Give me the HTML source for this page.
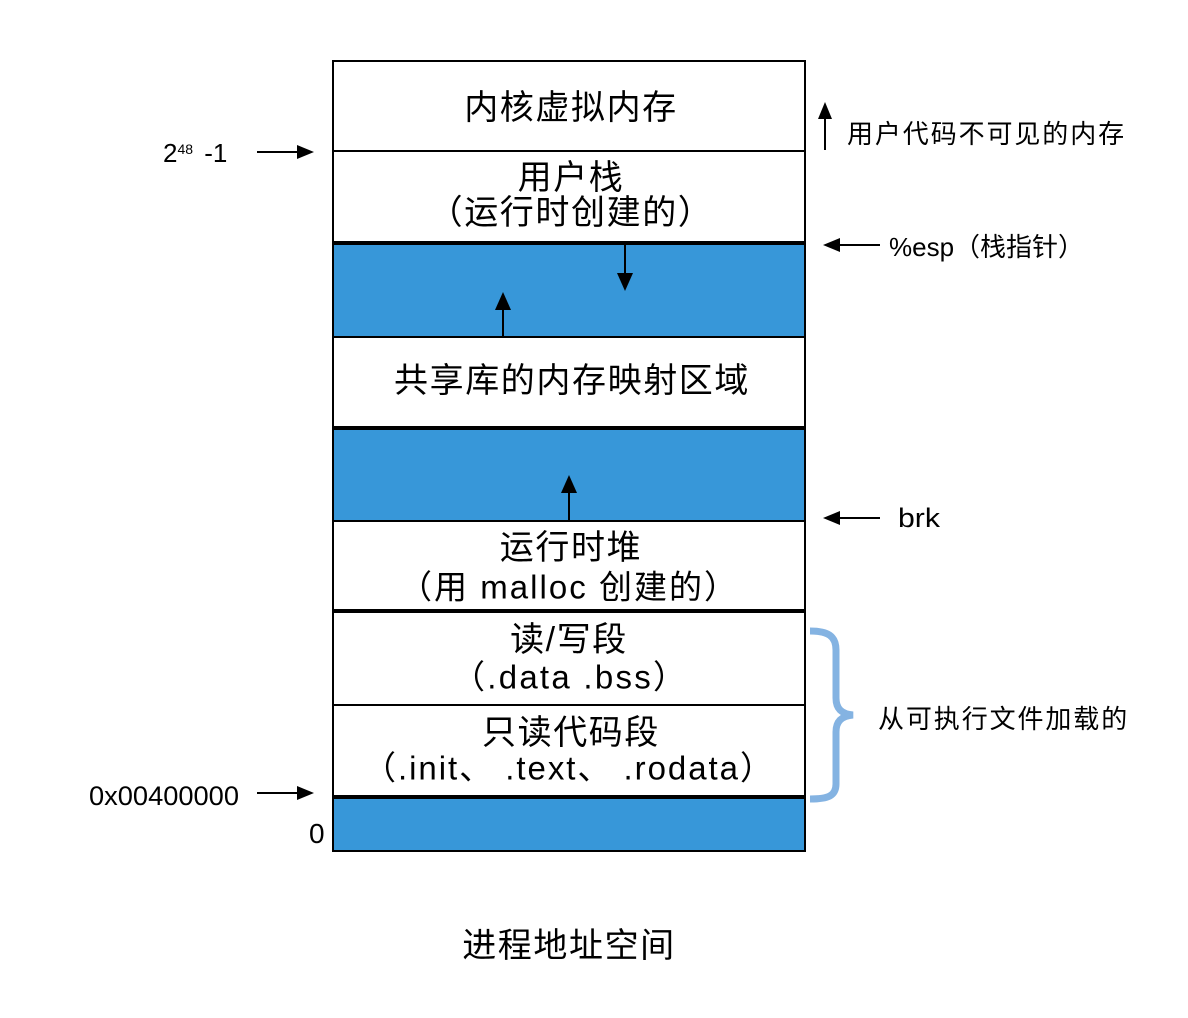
<!DOCTYPE html>
<html>
<head>
<meta charset="utf-8">
<style>
  html, body { margin: 0; padding: 0; background: #ffffff; }
  body { width: 1188px; height: 1018px; overflow: hidden; }
  svg { display: block; }
  text { font-family: "Liberation Sans", "Noto Sans CJK SC", sans-serif; fill: #000; }
</style>
</head>
<body>
<svg width="1188" height="1018" viewBox="0 0 1188 1018" xmlns="http://www.w3.org/2000/svg">
  <rect x="0" y="0" width="1188" height="1018" fill="#ffffff"/>

  <!-- blue regions -->
  <rect x="333" y="244" width="472" height="93" fill="#3797d9"/>
  <rect x="333" y="429" width="472" height="92" fill="#3797d9"/>
  <rect x="333" y="798" width="472" height="52" fill="#3797d9"/>

  <!-- box outline -->
  <line x1="333" y1="60" x2="333" y2="852" stroke="#000" stroke-width="2"/>
  <line x1="805" y1="60" x2="805" y2="852" stroke="#000" stroke-width="2"/>
  <line x1="332" y1="61" x2="806" y2="61" stroke="#000" stroke-width="2"/>
  <line x1="332" y1="851" x2="806" y2="851" stroke="#000" stroke-width="2"/>

  <!-- dividers -->
  <line x1="333" y1="151" x2="805" y2="151" stroke="#000" stroke-width="2"/>
  <line x1="333" y1="243" x2="805" y2="243" stroke="#000" stroke-width="4"/>
  <line x1="333" y1="337" x2="805" y2="337" stroke="#000" stroke-width="2"/>
  <line x1="333" y1="428" x2="805" y2="428" stroke="#000" stroke-width="4"/>
  <line x1="333" y1="521" x2="805" y2="521" stroke="#000" stroke-width="2"/>
  <line x1="333" y1="611" x2="805" y2="611" stroke="#000" stroke-width="4"/>
  <line x1="333" y1="705" x2="805" y2="705" stroke="#000" stroke-width="2"/>
  <line x1="333" y1="797" x2="805" y2="797" stroke="#000" stroke-width="4"/>

  <!-- arrows inside blue regions -->
  <line x1="625" y1="245" x2="625" y2="276" stroke="#000" stroke-width="2"/>
  <polygon points="617,273 633,273 625,291" fill="#000"/>
  <line x1="503" y1="337" x2="503" y2="306" stroke="#000" stroke-width="2"/>
  <polygon points="495,310 511,310 503,292" fill="#000"/>
  <line x1="569" y1="521" x2="569" y2="490" stroke="#000" stroke-width="2"/>
  <polygon points="561,493 577,493 569,475" fill="#000"/>

  <!-- box labels -->
  <g font-size="34" text-anchor="middle" letter-spacing="1.6">
    <text x="571" y="108" dominant-baseline="central">内核虚拟内存</text>
    <text x="571" y="178" dominant-baseline="central">用户栈</text>
    <text x="571" y="213" dominant-baseline="central">（运行时创建的）</text>
    <text x="572" y="381" dominant-baseline="central">共享库的内存映射区域</text>
    <text x="571" y="548" dominant-baseline="central">运行时堆</text>
    <text x="569" y="640" dominant-baseline="central">读/写段</text>
    <text x="571" y="733" dominant-baseline="central">只读代码段</text>
    <text x="569" y="946" dominant-baseline="central">进程地址空间</text>
  </g>
  <g font-size="33" text-anchor="middle">
    <text x="568" y="587" dominant-baseline="central" textLength="338" lengthAdjust="spacing">（用 malloc 创建的）</text>
    <text x="569" y="677" dominant-baseline="central" textLength="234" lengthAdjust="spacing">（.data  .bss）</text>
    <text x="568" y="768" dominant-baseline="central" textLength="410" lengthAdjust="spacing">（.init、 .text、 .rodata）</text>
  </g>

  <!-- left labels and arrows -->
  <text x="163" y="162" font-size="26">2<tspan font-size="14" dy="-8">48</tspan><tspan font-size="26" dy="8" dx="4"> -1</tspan></text>
  <line x1="257" y1="152" x2="300" y2="152" stroke="#000" stroke-width="2"/>
  <polygon points="297,145 297,159 314,152" fill="#000"/>

  <text x="89" y="805" font-size="27" textLength="150" lengthAdjust="spacingAndGlyphs">0x00400000</text>
  <line x1="257" y1="793" x2="300" y2="793" stroke="#000" stroke-width="2"/>
  <polygon points="297,786 297,800 314,793" fill="#000"/>

  <text x="309" y="843" font-size="28">0</text>

  <!-- right labels and arrows -->
  <line x1="825" y1="150" x2="825" y2="116" stroke="#000" stroke-width="2"/>
  <polygon points="818,119 832,119 825,102" fill="#000"/>
  <text x="847" y="134" font-size="26" letter-spacing="1.9" dominant-baseline="central">用户代码不可见的内存</text>

  <line x1="880" y1="245" x2="838" y2="245" stroke="#000" stroke-width="2"/>
  <polygon points="840,238 840,252 823,245" fill="#000"/>
  <text x="889" y="247" font-size="26" dominant-baseline="central">%esp（栈指针）</text>

  <line x1="880" y1="518" x2="838" y2="518" stroke="#000" stroke-width="2"/>
  <polygon points="840,511 840,525 823,518" fill="#000"/>
  <text x="898" y="518" font-size="27" dominant-baseline="central" textLength="42" lengthAdjust="spacingAndGlyphs">brk</text>

  <!-- brace -->
  <path d="M810,631 C828,631 836,636 836,650 L836,698 C836,709 842,714 853,715 C842,716 836,721 836,732 L836,784 C836,796 828,799 810,799"
        fill="none" stroke="#84b3e2" stroke-width="7"/>
  <text x="878" y="719" font-size="26" letter-spacing="1.9" dominant-baseline="central">从可执行文件加载的</text>
</svg>
</body>
</html>
